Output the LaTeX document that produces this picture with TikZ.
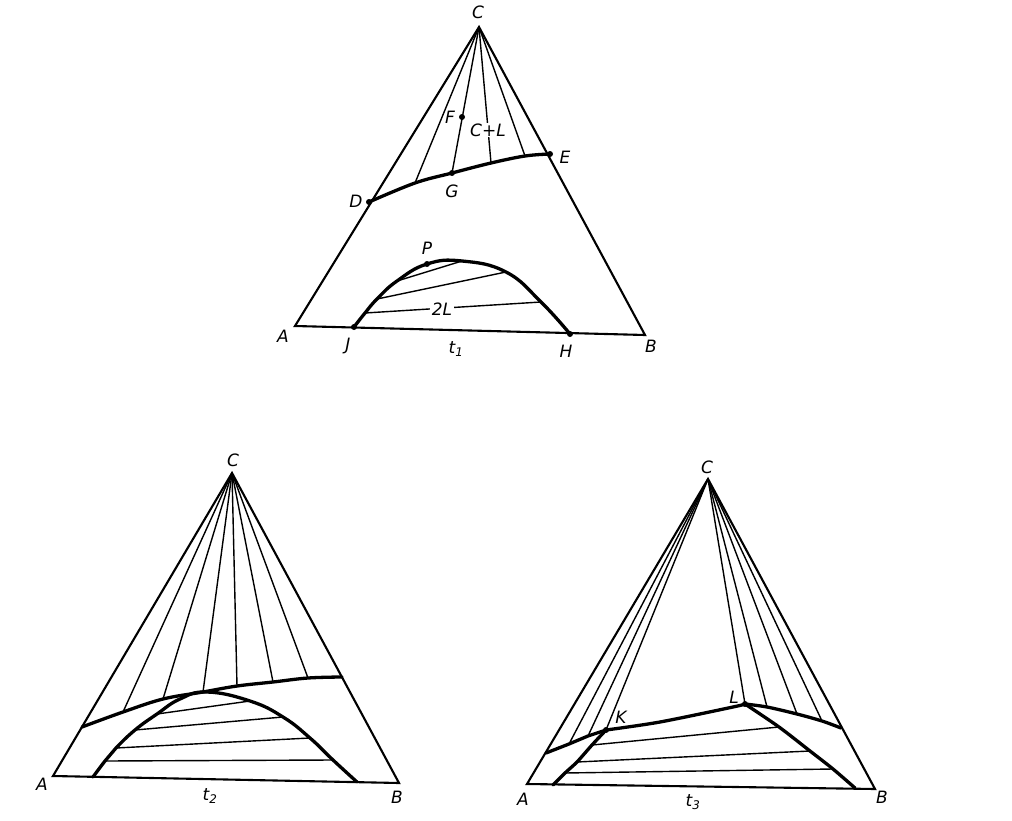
\documentclass[tikz,border=0pt]{standalone}
\usepackage{fontspec}
\setsansfont{DejaVu Sans}
\begin{document}
\begin{tikzpicture}[x=1bp,y=-1bp,
  edge/.style={line width=2.1bp, line join=miter},
  boldc/.style={line width=3.3bp, line cap=round, line join=round},
  tie/.style={line width=1.4bp},
  lab/.style={font=\sffamily\itshape\fontsize{17bp}{20bp}\selectfont, inner sep=1pt},
  dot/.style={circle, fill, inner sep=0pt, minimum size=6bp}]
\useasboundingbox (0,0) rectangle (1012,821);

% ================= t1 =================
\coordinate (C1) at (479,27);
\coordinate (A1) at (295,326);
\coordinate (B1) at (645,335);
\coordinate (D) at (369,202);
\coordinate (d1) at (415,183);
\coordinate (G) at (452,173);
\coordinate (d2) at (491,163);
\coordinate (d3) at (525,156);
\coordinate (E) at (550,154);
\coordinate (F) at (462,117);
\coordinate (J) at (354,327);
\coordinate (j1) at (365,313);
\coordinate (j2) at (377,299);
\coordinate (j3) at (397,281);
\coordinate (P) at (427,264);
\coordinate (h3) at (462,261);
\coordinate (h2) at (506,272);
\coordinate (h1) at (541,302);
\coordinate (H) at (570,334);

\draw[edge] (A1) -- (B1) -- (C1) -- cycle;
\foreach \p in {d1,G,d2,d3} \draw[tie] (C1) -- (\p);
\draw[boldc] plot[smooth, tension=0.6] coordinates {(D) (d1) (G) (d2) (d3) (E)};
\draw[boldc] plot[smooth, tension=0.75] coordinates {(J) (j1) (j2) (j3) (P) (h3) (h2) (h1) (H)};
\draw[tie] (j3) -- (h3);
\draw[tie] (j2) -- (h2);
\draw[tie] (j1) -- (h1);

\foreach \p in {D,E,G,F,P,J,H} \node[dot] (dot\p) at (\p) {};

\node[lab] (lC1) at (478,12) {C};
\node[lab] (lD) at (356,201) {D};
\node[lab] (lE) at (565,157) {E};
\node[lab] (lF) at (450,117) {F};
\node[lab] (lG) at (452,191) {G};
\node[lab, fill=white, inner sep=0.5pt] (lCL) at (488,130) {C+L};
\node[lab] (lP) at (427,248) {P};
\node[lab, fill=white, inner sep=1.5pt] (l2L) at (442,309) {2L};
\node[lab] (lA1) at (283,336) {A};
\node[lab] (lJ) at (348,346) {J};
\node[lab] (lt1) at (456,349) {t\textsubscript{1}};
\node[lab] (lH) at (566,351) {H};
\node[lab] (lB1) at (651,346) {B};

% ================= t2 =================
\coordinate (C2) at (232,473);
\coordinate (A2) at (53,776);
\coordinate (B2) at (399,783);
\coordinate (u0) at (82,727);
\coordinate (u1) at (123,712);
\coordinate (u2) at (163,699);
\coordinate (u3) at (203,692);
\coordinate (u4) at (237,686);
\coordinate (u5) at (273,682);
\coordinate (u6) at (308,678);
\coordinate (u7) at (342,677);
\coordinate (a0) at (93,777);
\coordinate (a1) at (105,761);
\coordinate (a2) at (116,748);
\coordinate (a3) at (135,730);
\coordinate (a4) at (157,714);
\coordinate (a5) at (180,699);
\coordinate (a6) at (207,692);
\coordinate (b4) at (250,701);
\coordinate (b3) at (283,717);
\coordinate (b2) at (310,738);
\coordinate (b1) at (333,760);
\coordinate (b0) at (357,782);

\draw[edge] (A2) -- (B2) -- (C2) -- cycle;
\foreach \p in {u1,u2,u3,u4,u5,u6} \draw[tie] (C2) -- (\p);
\draw[boldc] plot[smooth, tension=0.6] coordinates {(u0) (u1) (u2) (u3) (u4) (u5) (u6) (u7)};
\draw[boldc] plot[smooth, tension=0.75] coordinates {(a0) (a1) (a2) (a3) (a4) (a5) (a6) (b4) (b3) (b2) (b1) (b0)};
\draw[tie] (a4) -- (b4);
\draw[tie] (a3) -- (b3);
\draw[tie] (a2) -- (b2);
\draw[tie] (a1) -- (b1);

\node[lab] (lC2) at (233,460) {C};
\node[lab] (lA2) at (42,784) {A};
\node[lab] (lB2) at (397,797) {B};
\node[lab] (lt2) at (210,796) {t\textsubscript{2}};

% ================= t3 =================
\coordinate (C3) at (708,479);
\coordinate (A3) at (527,784);
\coordinate (B3) at (875,789);
\coordinate (v0) at (546,753);
\coordinate (v1) at (569,744);
\coordinate (v2) at (588,736);
\coordinate (K) at (606,730);
\coordinate (k1) at (660,722);
\coordinate (k2) at (733,707);
\coordinate (L) at (745,704);
\coordinate (w1) at (767,707);
\coordinate (w2) at (797,714);
\coordinate (w3) at (822,721);
\coordinate (w4) at (841,728);
\coordinate (m0) at (553,785);
\coordinate (m1) at (565,773);
\coordinate (m2) at (577,762);
\coordinate (m3) at (592,745);
\coordinate (n1) at (779,727);
\coordinate (n2) at (810,751);
\coordinate (n3) at (833,769);
\coordinate (n4) at (855,788);

\draw[edge] (A3) -- (B3) -- (C3) -- cycle;
\foreach \p in {v1,v2,K,L,w1,w2,w3} \draw[tie] (C3) -- (\p);
\draw[boldc] (v0) -- (v1) -- (v2) -- (K);
\draw[boldc] plot[smooth, tension=0.5] coordinates {(K) (k1) (k2) (L)};
\draw[boldc] plot[smooth, tension=0.5] coordinates {(L) (w1) (w2) (w3) (w4)};
\draw[boldc] plot[smooth, tension=0.4] coordinates {(m0) (m1) (m2) (m3) (K)};
\draw[boldc] plot[smooth, tension=0.5] coordinates {(L) (n1) (n2) (n3) (n4)};
\draw[tie] (m3) -- (n1);
\draw[tie] (m2) -- (n2);
\draw[tie] (m1) -- (n3);

\node[dot] (dotK) at (K) {};
\node[dot] (dotL) at (L) {};

\node[lab] (lC3) at (707,467) {C};
\node[lab] (lK) at (621,717) {K};
\node[lab] (lL) at (734,697) {L};
\node[lab] (lA3) at (523,799) {A};
\node[lab] (lB3) at (882,797) {B};
\node[lab] (lt3) at (693,802) {t\textsubscript{3}};
\end{tikzpicture}
\end{document}
